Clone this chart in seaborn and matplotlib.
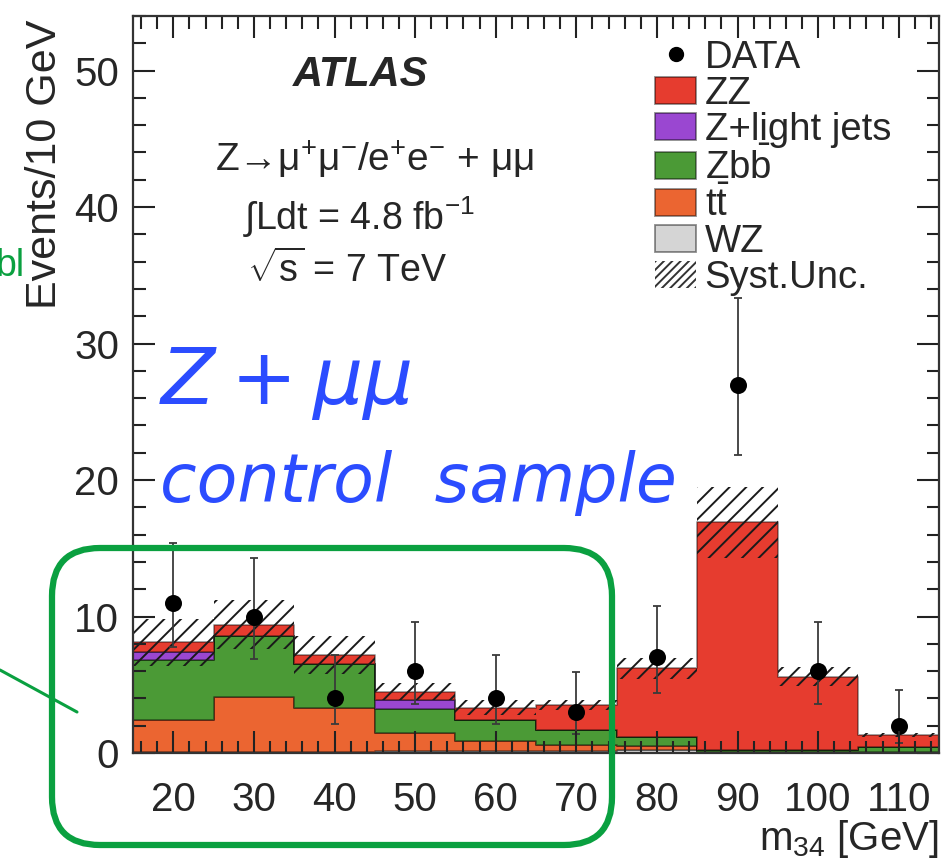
import numpy as np
import pandas as pd
import matplotlib
matplotlib.use("Agg")
import matplotlib.pyplot as plt
import seaborn as sns
from matplotlib.patches import Patch, FancyBboxPatch
from matplotlib.lines import Line2D
from matplotlib.ticker import MultipleLocator

# ---------------- data ----------------
bin_centers = [20, 30, 40, 50, 60, 70, 80, 90, 100, 110]
bin_edges = [15, 25, 35, 45, 55, 65, 75, 85, 95, 105, 115]
tick_labels = ["20", "30", "40", "50", "60", "70", "80", "90", "100", "110"]

data_counts = [11, 10, 4, 6, 4, 3, 7, 27, 6, 2]
data_err_low = [3.27, 3.11, 1.91, 2.38, 1.91, 1.63, 2.58, 5.16, 2.38, 1.29]
data_err_high = [4.38, 4.27, 3.16, 3.58, 3.16, 2.92, 3.77, 6.35, 3.58, 2.64]

wz = [0.10, 0.10, 0.10, 0.15, 0.15, 0.15, 0.20, 0.05, 0.05, 0.05]
ttbar = [2.30, 4.00, 3.20, 1.30, 0.75, 0.45, 0.30, 0.05, 0.05, 0.05]
zbb = [4.40, 4.50, 3.20, 1.75, 1.50, 1.10, 0.65, 0.10, 0.10, 0.35]
zlight = [0.60, 0.00, 0.00, 0.65, 0.00, 0.00, 0.00, 0.00, 0.00, 0.00]
zz = [0.70, 0.80, 0.70, 0.65, 0.90, 1.80, 5.05, 16.70, 5.40, 0.85]
syst = [1.70, 1.80, 1.40, 0.60, 0.55, 0.35, 0.75, 2.60, 0.70, 0.15]

process_names = ["ZZ", "Z+light jets", "Zbb", "tt", "WZ"]
legend_labels = ["ZZ", "Z+light jets", r"Zb$\bar{\mathrm{b}}$",
                 r"t$\bar{\mathrm{t}}$", "WZ"]
process_colors = ["#e63c2f", "#9a47d1", "#4b9a36", "#eb6531", "#d5d5d5"]
process_values = [zz, zlight, zbb, ttbar, wz]

rows = []
for name, vals in zip(process_names, process_values):
    for c, v in zip(bin_centers, vals):
        rows.append({"m34": c, "process": name, "events": v})
df = pd.DataFrame(rows)
total = np.sum(np.array(process_values), axis=0)

# ---------------- style ----------------
sns.set_style("ticks")
plt.rcParams["font.family"] = ["Liberation Sans", "DejaVu Sans"]
plt.rcParams["mathtext.fontset"] = "custom"
plt.rcParams["mathtext.rm"] = "Liberation Sans"
plt.rcParams["mathtext.it"] = "Liberation Sans:italic"
plt.rcParams["mathtext.bf"] = "Liberation Sans:bold"
plt.rcParams["hatch.linewidth"] = 1.4

W, H = 943, 861
fig = plt.figure(figsize=(W / 100, H / 100), dpi=100)
ax_l, ax_r, ax_t, ax_b = 133, 939, 16, 753
rect = [ax_l / W, (H - ax_b) / H, (ax_r - ax_l) / W, (ax_b - ax_t) / H]
ax = fig.add_axes(rect)

sns.histplot(data=df, x="m34", weights="events", hue="process",
             hue_order=process_names, palette=dict(zip(process_names, process_colors)),
             bins=bin_edges, multiple="stack", element="step", fill=True,
             alpha=1, linewidth=1.3, edgecolor=(0, 0, 0, 0.4), legend=False, ax=ax)

# systematic uncertainty band
ax.bar(bin_centers, 2 * np.array(syst), bottom=total - np.array(syst), width=10,
       fill=False, hatch="//", linewidth=0, edgecolor="#1a1a1a", zorder=3)

# data
ax.errorbar(bin_centers, data_counts, yerr=[data_err_low, data_err_high], fmt="none",
            ecolor="#3a3a3a", elinewidth=1.3, capsize=3, capthick=1.3, zorder=6)
sns.scatterplot(x=bin_centers, y=data_counts, color="black", s=150, edgecolor="black",
                linewidth=0, zorder=7, ax=ax)

ax.set_xlim(15, 115)
ax.set_ylim(0, 54)
ax.set_xticks(bin_centers)
ax.set_xticklabels(tick_labels)
ax.set_yticks([0, 10, 20, 30, 40, 50])
ax.tick_params(which="both", length=0, labelsize=29)
ax.tick_params(axis="x", pad=20)
ax.tick_params(axis="y", pad=10)
for sp in ax.spines.values():
    sp.set_visible(False)

# transparent overlay axes carrying the inward ticks and frame on top of the fills
ov = fig.add_axes(rect, sharex=ax, sharey=ax, facecolor="none")
ov.set_zorder(ax.get_zorder() + 1)
ov.xaxis.set_minor_locator(MultipleLocator(2))
ov.yaxis.set_minor_locator(MultipleLocator(2))
ov.tick_params(which="both", direction="in", top=True, right=True, bottom=True, left=True,
               width=1.5, color="#222222", labelbottom=False, labelleft=False)
ov.tick_params(which="major", length=16)
ov.tick_params(which="minor", length=9)
for sp in ov.spines.values():
    sp.set_linewidth(1.6)
    sp.set_color("#333333")
ov.set_xlabel("")
ov.set_ylabel("")

ax.set_ylabel("Events/10 GeV", loc="top", fontsize=31)
ax.yaxis.set_label_coords(-0.084, 0.995)
ax.set_xlabel(r"m$_{34}$ [GeV]", loc="right", fontsize=29)
ax.xaxis.set_label_coords(1.0, -0.088)

# legend
handles = [Line2D([], [], marker="o", color="black", linestyle="none", markersize=10)]
for col in process_colors:
    handles.append(Patch(facecolor=col, edgecolor=(0, 0, 0, 0.45), linewidth=1.3))
handles.append(Patch(facecolor="none", edgecolor="#333333", hatch="////", linewidth=0))
labels = ["DATA"] + legend_labels + ["Syst.Unc."]
ov.legend(handles, labels, loc="upper left", bbox_to_anchor=(0.648, 0.968),
          frameon=False, fontsize=27.5, borderpad=0, borderaxespad=0,
          labelspacing=0.0, handlelength=1.07, handleheight=0.72,
          handletextpad=0.22)

# ATLAS labels
ax.text(0.2825, 0.92, "ATLAS", transform=ax.transAxes, fontsize=30,
        fontweight="bold", fontstyle="italic", ha="center", va="center")
ax.text(0.30, 0.805, "Z\u2192" + r"$\mathrm{\mu}^{+}\mathrm{\mu}^{-}$/e$^{+}$e$^{-}$ + $\mathrm{\mu\mu}$",
        transform=ax.transAxes, fontsize=28, ha="center", va="center")
ax.text(0.28, 0.727, r"$\int$Ldt = 4.8 fb$^{-1}$", transform=ax.transAxes,
        fontsize=27, ha="center", va="center")
ax.text(0.265, 0.655, r"$\sqrt{\mathrm{s}}$ = 7 TeV", transform=ax.transAxes,
        fontsize=27, ha="center", va="center")

# blue annotation
blue = "#2b4cff"
ax.text(0.032, 0.4735, r"$Z + \mu\mu$", transform=ax.transAxes, fontsize=57,
        color=blue, ha="left", va="baseline", math_fontfamily="dejavusans")
ax.text(0.033, 0.3406, "control  sample", transform=ax.transAxes, fontsize=48,
        color=blue, ha="left", va="baseline", family="DejaVu Sans", fontstyle="oblique")

# green hand-drawn annotations (figure pixel geometry -> inches)
green = "#0aa040"
box = FancyBboxPatch((0.52, 0.16), 5.60, 2.97, boxstyle="round,pad=0,rounding_size=0.48",
                     transform=fig.dpi_scale_trans, fill=False, edgecolor=green,
                     linewidth=4.5, zorder=20, clip_on=False)
fig.patches.append(box)
fig.add_artist(Line2D([0.0, 0.77], [1.91, 1.49], transform=fig.dpi_scale_trans,
                      color=green, linewidth=2.2))
fig.text(25 / W, 1 - 266 / H, "bl", color=green, fontsize=27, ha="right", va="center")

fig.savefig("out.png", dpi=100)
